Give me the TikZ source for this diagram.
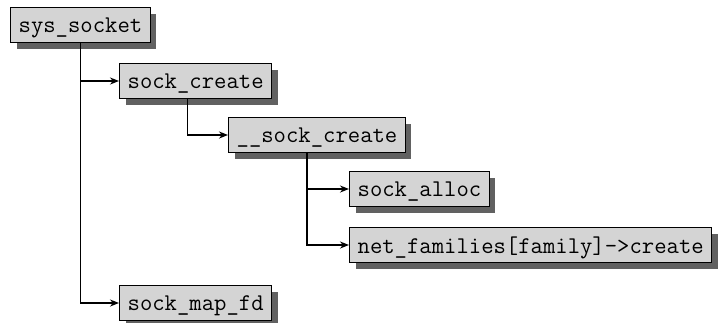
\documentclass[tikz,border=0pt]{standalone}
\usepackage{fontspec}
\usetikzlibrary{arrows.meta,shadows}
\begin{document}
\begin{tikzpicture}[x=1pt,y=-1pt,
  every node/.style={font=\ttfamily\fontsize{24}{26}\selectfont},
  fn/.style={draw,line width=1.3pt,fill=black!17,anchor=west,
    inner xsep=8pt,inner ysep=0pt,minimum height=35pt,text depth=0pt,
    drop shadow={shadow xshift=6pt,shadow yshift=-6pt,fill=black!62,opacity=1}},
  call/.style={line width=1.6pt,-{Stealth[length=9pt,width=7pt]}}]
\useasboundingbox (0,0) rectangle (720,322);
\node[fn] (sys) at (10,25)   {sys\_socket};
\node[fn] (sc)  at (119,81)  {sock\_create};
\node[fn] (isc) at (228,135) {\_\_sock\_create};
\node[fn] (sa)  at (349,189) {sock\_alloc};
\node[fn] (nf)  at (349,245) {net\_families[family]->create};
\node[fn] (smf) at (119,303) {sock\_map\_fd};
\draw[call] (sys.south) |- (sc.west);
\draw[call] (sys.south) |- (smf.west);
\draw[call] ([xshift=-8pt]sc.south) |- (isc.west);
\draw[call] ([xshift=-10pt]isc.south) |- (sa.west);
\draw[call] ([xshift=-10pt]isc.south) |- (nf.west);
\end{tikzpicture}
\end{document}
